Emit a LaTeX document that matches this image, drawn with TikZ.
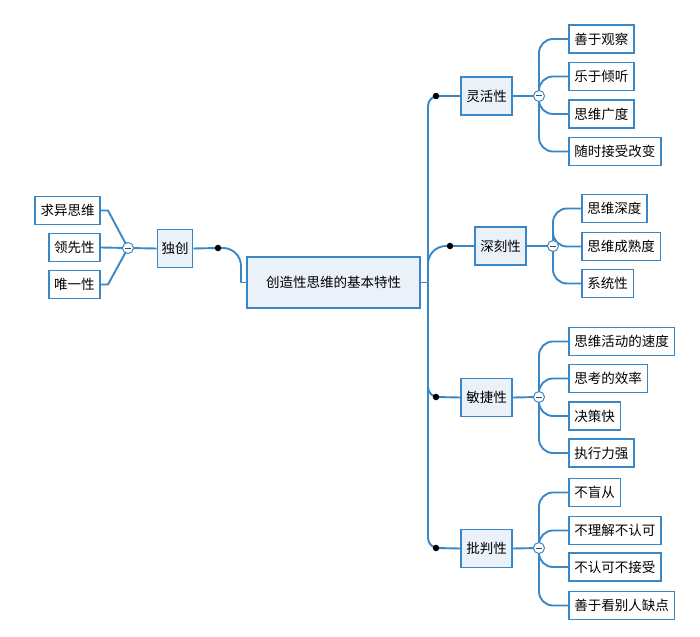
\documentclass[tikz,border=0pt]{standalone}
\usepackage{fontspec}
\setmainfont{Noto Sans CJK SC}
\usepackage{tikz}
\usetikzlibrary{positioning, calc, backgrounds}
\definecolor{mblue}{RGB}{58,135,200}
\definecolor{mfill}{RGB}{235,241,248}
\tikzstyle{topic} = [rectangle, draw=mblue, fill=mfill, line width=1.9pt, inner xsep=5pt, minimum height=38pt, text centered]
\tikzstyle{leaf} = [rectangle, draw=mblue, fill=white, line width=1.9pt, inner xsep=5.5pt, minimum height=28pt]
\tikzstyle{link} = [draw=mblue, line width=1.9pt]
\tikzstyle{jdot} = [circle, fill=black, inner sep=0pt, minimum size=6.5pt]
\tikzstyle{fold} = [circle, draw=mblue, fill=white, line width=1pt, inner sep=0pt, minimum size=11pt,
  path picture={\draw[black!70, line width=1pt] ([xshift=-3pt]path picture bounding box.center) -- ([xshift=3pt]path picture bounding box.center);}]

\begin{document}
\begin{tikzpicture}[x=1pt, y=-1pt, font=\fontsize{13.5}{16}\selectfont]
    \useasboundingbox (0,0) rectangle (700,636);

    % central topic
    \node (root) [topic, minimum width=173pt, minimum height=51pt] at (333.5,282.5) {创造性思维的基本特性};

    % left branch
    \node (duchuang) [topic, inner xsep=4pt] at (175,248.5) {独创};
    \node (dL) [jdot] at (218,248) {};
    \node (kL) [fold] at (128,248) {};
    \node (qiuyi) [leaf, anchor=east] at (101,210.5) {求异思维};
    \node (lingxian) [leaf, anchor=east] at (101,247.5) {领先性};
    \node (weiyi) [leaf, anchor=east] at (101,284.5) {唯一性};

    % right branches
    \node (linghuo) [topic] at (486.5,96) {灵活性};
    \node (shenke) [topic] at (500.5,246) {深刻性};
    \node (minjie) [topic] at (486.5,397.5) {敏捷性};
    \node (pipan) [topic] at (486.5,548.5) {批判性};
    \node (d1) [jdot] at (436,96) {};
    \node (d2) [jdot] at (450,246) {};
    \node (d3) [jdot] at (436,397) {};
    \node (d4) [jdot] at (436,548) {};
    \node (k1) [fold] at (539,96) {};
    \node (k2) [fold] at (553,246) {};
    \node (k3) [fold] at (539,397) {};
    \node (k4) [fold] at (539,548) {};

    \node (a1) [leaf, anchor=west] at (568,39) {善于观察};
    \node (a2) [leaf, anchor=west] at (568,76.5) {乐于倾听};
    \node (a3) [leaf, anchor=west] at (568,114) {思维广度};
    \node (a4) [leaf, anchor=west] at (568,151.5) {随时接受改变};

    \node (b1) [leaf, anchor=west] at (581,208.5) {思维深度};
    \node (b2) [leaf, anchor=west] at (581,246.5) {思维成熟度};
    \node (b3) [leaf, anchor=west] at (581,283.5) {系统性};

    \node (c1) [leaf, anchor=west] at (568,341.5) {思维活动的速度};
    \node (c2) [leaf, anchor=west] at (568,378.5) {思考的效率};
    \node (c3) [leaf, anchor=west] at (568,416) {决策快};
    \node (c4) [leaf, anchor=west] at (568,453) {执行力强};

    \node (e1) [leaf, anchor=west] at (568,492.5) {不盲从};
    \node (e2) [leaf, anchor=west] at (568,530.5) {不理解不认可};
    \node (e3) [leaf, anchor=west] at (568,567) {不认可不接受};
    \node (e4) [leaf, anchor=west] at (568,605.5) {善于看别人缺点};

    \begin{scope}[on background layer]
      % left side
      \coordinate (jL) at (241,282.5);
      \draw [link] (root.west) -- (jL);
      \draw [link, rounded corners=18pt] (jL) |- (dL.center);
      \draw [link] (dL.center) -- (duchuang.east);
      \draw [link] (duchuang.west) -- (kL);
      \draw [link] (kL.center) -- ($(qiuyi.east)+(7,0)$) -- (qiuyi.east);
      \draw [link] (kL.center) -- (lingxian.east);
      \draw [link] (kL.center) -- ($(weiyi.east)+(7,0)$) -- (weiyi.east);

      % trunk on the right
      \coordinate (jR) at (428,282.5);
      \draw [link] (root.east) -- (jR);
      \foreach \d/\r in {d1/10,d2/18,d3/10,d4/10}
        \draw [link, rounded corners=\r pt] (jR) |- (\d.center);
      \foreach \d/\t in {d1/linghuo,d2/shenke,d3/minjie,d4/pipan}
        \draw [link] (\d.center) -- (\t.west);
      \foreach \t/\k in {linghuo/k1,shenke/k2,minjie/k3,pipan/k4}
        \draw [link] (\t.east) -- (\k.center);

      % leaves
      \foreach \k/\l in {k1/a1,k1/a2,k1/a3,k1/a4,k2/b1,k2/b2,k2/b3,k3/c1,k3/c2,k3/c3,k3/c4,k4/e1,k4/e2,k4/e3,k4/e4}
        \draw [link, rounded corners=14pt] (\k.center) |- (\l.west);
    \end{scope}
\end{tikzpicture}
\end{document}
